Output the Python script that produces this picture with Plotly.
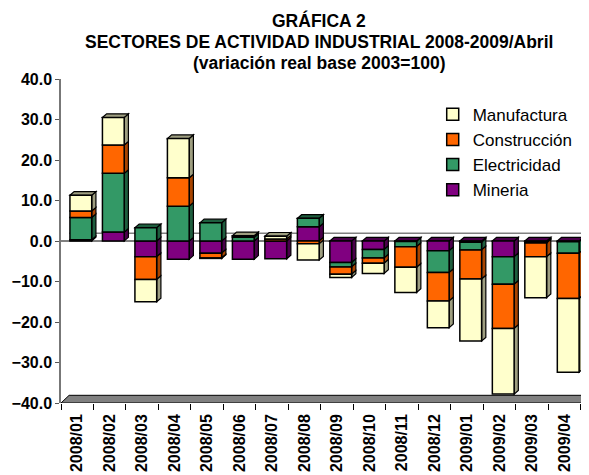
import plotly.graph_objects as go

categories = ["2008/01", "2008/02", "2008/03", "2008/04", "2008/05", "2008/06",
              "2008/07", "2008/08", "2008/09", "2008/10", "2008/11", "2008/12",
              "2009/01", "2009/02", "2009/03", "2009/04"]

mineria = [0.3, 2.2, -3.9, -4.5, -3.0, -4.5, -4.4, 3.5, -5.3, -2.1, -0.1, -2.4, -0.3, -3.9, -0.4, -0.2]
electricidad = [5.5, 14.5, 3.3, 8.6, 4.5, 0.9, 0.0, 2.1, -1.1, -2.1, -1.3, -5.4, -1.9, -6.8, -0.1, -2.8]
construccion = [1.6, 7.0, -5.6, 7.0, -1.2, 0.0, 0.5, -0.7, -1.8, -1.3, -5.1, -7.0, -7.2, -10.9, -3.4, -11.2]
manufactura = [3.9, 6.8, -5.5, 9.7, -0.1, 0.4, 0.7, -4.0, -0.8, -2.5, -6.2, -6.6, -15.3, -16.2, -10.1, -18.2]

series_names = ["Mineria", "Electricidad", "Construcción", "Manufactura"]
series_values = [mineria, electricidad, construccion, manufactura]
front_colors = ["#800080", "#339966", "#FF6600", "#FFFFCC"]
side_colors = ["#4A004A", "#1E5E3E", "#A84400", "#9E9E80"]

y_ticks = [-40, -30, -20, -10, 0, 10, 20, 30, 40]

title_lines = ["GRÁFICA 2",
               "SECTORES DE ACTIVIDAD INDUSTRIAL 2008-2009/Abril",
               "(variación real base 2003=100)"]

BAR_W = 0.67
SHIFT = 0.11
DX, DY = 0.13, 0.9          # bar depth (category units, value units)
DXB, DYB = 0.25, 1.9        # chart depth (floor / back wall)

fig = go.Figure()
for name, vals, col in zip(series_names, series_values, front_colors):
    fig.add_trace(go.Bar(
        x=categories, y=vals, name=name,
        width=BAR_W, offset=-BAR_W / 2 + SHIFT,
        marker=dict(color=col, line=dict(color="black", width=1.5)),
    ))

shapes = []
# floor
shapes.append(dict(
    type="path", xref="x", yref="y", layer="below",
    path=f"M -0.5,{y_ticks[0]} L {len(categories)-0.5},{y_ticks[0]} "
         f"L {len(categories)-0.5+DXB},{y_ticks[0]+DYB} L {-0.5+DXB},{y_ticks[0]+DYB} Z",
    fillcolor="#808080", line=dict(color="black", width=1)))
# back wall zero line and front zero line
shapes.append(dict(type="line", xref="x", yref="y", layer="below",
                   x0=-0.5 + DXB, x1=len(categories) - 0.5 + DXB, y0=DYB, y1=DYB,
                   line=dict(color="#808080", width=1.5)))
shapes.append(dict(type="line", xref="x", yref="y", layer="below",
                   x0=-0.5, x1=len(categories) - 0.5, y0=0, y1=0,
                   line=dict(color="black", width=1)))

# 3D side and top faces derived from the stacked data
for i in range(len(categories)):
    pos, neg = 0.0, 0.0
    xl = i - BAR_W / 2 + SHIFT
    xr = i + BAR_W / 2 + SHIFT
    top_col = None
    first_neg_col = None
    for vals, scol in zip(series_values, side_colors):
        v = vals[i]
        if v == 0:
            continue
        if v > 0:
            b, t = pos, pos + v
            pos = t
            top_col = scol
        else:
            b, t = neg + v, neg
            neg = b
            if first_neg_col is None:
                first_neg_col = scol
        shapes.append(dict(
            type="path", xref="x", yref="y", layer="below",
            path=f"M {xr},{b} L {xr},{t} L {xr+DX},{t+DY} L {xr+DX},{b+DY} Z",
            fillcolor=scol, line=dict(color="black", width=1.2)))
    T = pos if pos > 0 else 0.0
    tc = top_col if top_col is not None else first_neg_col
    shapes.append(dict(
        type="path", xref="x", yref="y", layer="below",
        path=f"M {xl},{T} L {xr},{T} L {xr+DX},{T+DY} L {xl+DX},{T+DY} Z",
        fillcolor=tc, line=dict(color="black", width=1.2)))

# page body has an 8px margin: figure is sized so that it fills the window
W, H = 581, 467
ML, MT, MB = 53, 71, 72
plot_h = H - MT - MB
plot_w = W - ML
annotations = []
for line_text, py in zip(title_lines, [20, 42, 63]):
    annotations.append(dict(
        text=line_text, xref="paper", yref="paper",
        x=(319 - 8 - ML) / plot_w, y=(H - MB - (py - 8)) / plot_h,
        xanchor="center", yanchor="middle", showarrow=False,
        font=dict(size=17.5, weight="bold", family="Liberation Sans, Arial, sans-serif", color="black"),
    ))

fig.update_layout(
    width=W, height=H,
    barmode="relative",
    paper_bgcolor="white", plot_bgcolor="white",
    margin=dict(l=ML, r=0, t=MT, b=MB, autoexpand=False),
    font=dict(family="Liberation Sans, Arial, sans-serif", color="black"),
    annotations=annotations,
    xaxis=dict(
        type="category", range=[-0.5, 15.75], tickson="boundaries",
        ticks="outside", ticklen=6, tickcolor="black", tickwidth=1,
        tickangle=-90, showgrid=False, zeroline=False, showline=False,
        automargin=False, ticklabelstandoff=7,
        tickfont=dict(size=16, weight="bold"),
    ),
    yaxis=dict(
        range=[-40, 40], tickvals=y_ticks, tickformat=".1f",
        ticks="outside", ticklen=4, tickcolor="#555555",
        showline=True, linecolor="#777777", linewidth=1.5,
        showgrid=False, zeroline=False, automargin=False,
        tickfont=dict(size=16, weight="bold"),
    ),
    legend=dict(
        x=0.704, y=0.945, xanchor="left", yanchor="top",
        traceorder="reversed",
        font=dict(size=17), bgcolor="rgba(0,0,0,0)",
    ),
    shapes=shapes,
    showlegend=True,
)

fig.write_html("out.html")
